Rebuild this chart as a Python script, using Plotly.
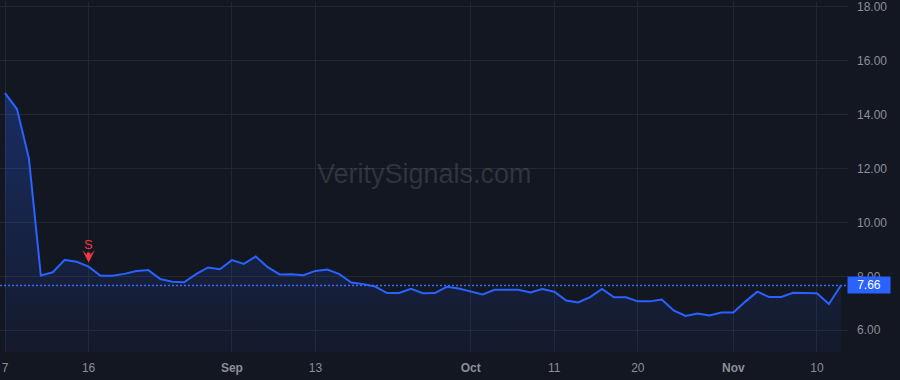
import plotly.graph_objects as go

# ---- data (2023 trading days) ----
dates = [
    "2023-08-07", "2023-08-08", "2023-08-09", "2023-08-10", "2023-08-11",
    "2023-08-14", "2023-08-15", "2023-08-16", "2023-08-17", "2023-08-18",
    "2023-08-21", "2023-08-22", "2023-08-23", "2023-08-24", "2023-08-25",
    "2023-08-28", "2023-08-29", "2023-08-30", "2023-08-31", "2023-09-01",
    "2023-09-05", "2023-09-06", "2023-09-07", "2023-09-08", "2023-09-11",
    "2023-09-12", "2023-09-13", "2023-09-14", "2023-09-15", "2023-09-18",
    "2023-09-19", "2023-09-20", "2023-09-21", "2023-09-22", "2023-09-25",
    "2023-09-26", "2023-09-27", "2023-09-28", "2023-09-29", "2023-10-02",
    "2023-10-03", "2023-10-04", "2023-10-05", "2023-10-06", "2023-10-09",
    "2023-10-10", "2023-10-11", "2023-10-12", "2023-10-13", "2023-10-16",
    "2023-10-17", "2023-10-18", "2023-10-19", "2023-10-20", "2023-10-23",
    "2023-10-24", "2023-10-25", "2023-10-26", "2023-10-27", "2023-10-30",
    "2023-10-31", "2023-11-01", "2023-11-02", "2023-11-03", "2023-11-06",
    "2023-11-07", "2023-11-08", "2023-11-09", "2023-11-10", "2023-11-13",
    "2023-11-14",
]
values = [
    14.80, 14.21, 12.38, 8.03, 8.15, 8.61, 8.54, 8.36, 8.02, 8.02,
    8.09, 8.20, 8.23, 7.90, 7.80, 7.78, 8.08, 8.33, 8.26, 8.60,
    8.46, 8.74, 8.34, 8.07, 8.08, 8.04, 8.20, 8.25, 8.08, 7.77,
    7.71, 7.62, 7.38, 7.38, 7.54, 7.37, 7.38, 7.61, 7.55, 7.43,
    7.33, 7.50, 7.50, 7.50, 7.40, 7.53, 7.43, 7.10, 7.03, 7.23,
    7.53, 7.22, 7.22, 7.07, 7.07, 7.14, 6.73, 6.53, 6.62, 6.55,
    6.66, 6.66, 7.06, 7.43, 7.23, 7.23, 7.39, 7.37, 7.37, 6.97,
    7.66,
]
tick_dates = ["2023-08-07", "2023-08-16", "2023-09-01", "2023-09-13", "2023-10-02",
              "2023-10-11", "2023-10-20", "2023-11-01", "2023-11-10"]
tick_labels = ["7", "16", "<b>Sep</b>", "13", "<b>Oct</b>", "11", "20", "<b>Nov</b>", "10"]
y_ticks = [6, 8, 10, 12, 14, 16, 18]
signal_date = "2023-08-16"
signal_label = "S"
last_value = values[-1]
watermark = "VeritySignals.com"

BG = "#131722"
GRID = "#232733"
LINE = "#2962FF"
TXT = "#8b8e97"
RED = "#f23645"
FONT = "Liberation Sans, Arial"

fig = go.Figure()
fig.add_trace(go.Scatter(
    x=dates, y=values, mode="lines",
    line=dict(color=LINE, width=2),
    fill="tozeroy",
    fillgradient=dict(type="vertical", start=5.2, stop=15.0,
                      colorscale=[[0, "rgba(41,98,255,0.04)"], [1, "rgba(41,98,255,0.30)"]]),
    hoverinfo="skip",
))

# last value dotted line
fig.add_hline(y=last_value, line=dict(color="#3a6dff", width=1.4, dash="2px,2px"))

# signal marker
sig_idx = dates.index(signal_date)
fig.add_annotation(
    x=signal_date, y=values[sig_idx], text=signal_label,
    font=dict(color=RED, size=13, family=FONT),
    showarrow=True, ax=0, ay=-22, arrowcolor=RED, arrowwidth=3.5,
    arrowhead=3, arrowsize=0.6, standoff=4, borderpad=0,
)

# last value label
fig.add_annotation(
    xref="paper", x=1.0, y=last_value, yref="y", xanchor="left",
    text=f"{last_value:.2f}", showarrow=False,
    bgcolor=LINE, font=dict(color="white", size=12, family=FONT),
    width=40, height=14, borderpad=1, xshift=-1,
)

# watermark
fig.add_annotation(
    xref="paper", yref="paper", x=0.5, y=0.51, text=watermark, showarrow=False,
    font=dict(color="rgba(255,255,255,0.13)", size=27, family=FONT),
)

fig.update_layout(
    width=900, height=380,
    margin=dict(l=0, r=52, t=0, b=28),
    paper_bgcolor=BG, plot_bgcolor=BG,
    showlegend=False,
    font=dict(family=FONT, size=12, color=TXT),
    xaxis=dict(
        type="category", range=[-0.42, 70.6],
        tickmode="array", tickvals=tick_dates, ticktext=tick_labels,
        showgrid=True, gridcolor=GRID, gridwidth=1,
        zeroline=False, showline=False, ticks="", tickfont=dict(size=12, color=TXT),
        ticklabelstandoff=7, ticklabeloverflow="allow",
    ),
    yaxis=dict(
        side="right", range=[5.19, 18.185],
        tickmode="array", tickvals=y_ticks, ticktext=[f"{v:.2f}" for v in y_ticks],
        showgrid=True, gridcolor=GRID, gridwidth=1,
        zeroline=False, showline=False, ticks="", tickfont=dict(size=12, color=TXT),
        ticklabelstandoff=8, ticklabeloverflow="allow",
    ),
)

fig.write_html("out.html", config={"displayModeBar": False})
